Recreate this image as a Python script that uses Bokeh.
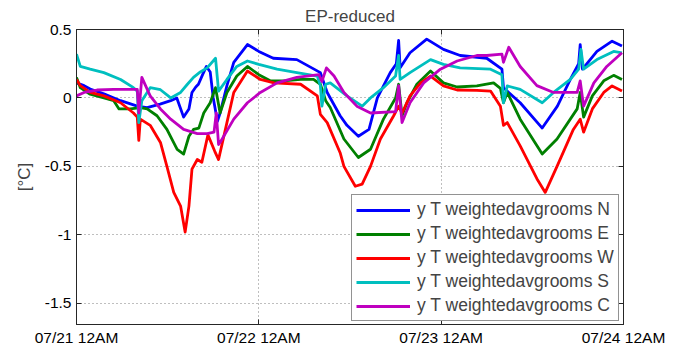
from bokeh.plotting import figure
from bokeh.models import FixedTicker, LinearAxis, Range1d, Legend
from bokeh.embed import file_html
from bokeh.resources import INLINE

# ---- data (hours since 07/21 12AM, temperature difference in degC) ----
hours_N = [0.0, 1.0, 1.8, 3.6, 5.8, 8.0, 9.3, 11.0, 12.4, 13.2, 14.1, 14.8, 15.2, 15.7, 16.05, 16.6, 17.1, 17.6,
           18.0, 18.55, 18.9, 19.8, 20.7, 22.5, 24.0, 25.9, 29.0, 32.1, 33.0, 34.7, 35.6, 37.1, 38.5, 39.6, 41.3,
           42.1, 42.4, 42.6, 43.9, 46.1, 48.3, 50.5, 54.0, 56.0, 56.2, 58.4, 61.3, 63.3, 65.0, 66.1, 66.3, 66.6,
           68.5, 70.5, 71.8]
temp_N = [0.11, 0.09, 0.065, 0.03, -0.02, -0.06, -0.07, -0.045, -0.02, 0.0, -0.14, -0.08, 0.04, 0.08, 0.10, 0.17,
          0.23, 0.19, 0.0, -0.17, -0.11, 0.09, 0.26, 0.39, 0.34, 0.29, 0.28, 0.185, 0.04, -0.13, -0.2, -0.28, -0.23,
          0.0, 0.185, 0.25, 0.42, 0.22, 0.33, 0.43, 0.355, 0.31, 0.29, 0.21, 0.075, -0.035, -0.22, -0.06, 0.135,
          0.25, 0.39, 0.21, 0.34, 0.415, 0.38]

hours_E = [0.0, 0.5, 1.8, 3.6, 4.9, 5.6, 7.1, 8.4, 9.3, 10.6, 11.9, 13.25, 14.1, 14.8, 15.4, 16.1, 16.75, 17.6,
           18.3, 18.9, 19.8, 21.1, 22.5, 24.0, 25.5, 27.3, 29.5, 31.2, 32.1, 32.8, 33.4, 35.2, 37.1, 38.7, 40.4,
           42.0, 42.4, 42.85, 43.5, 44.8, 46.6, 48.3, 50.1, 52.7, 54.9, 55.8, 56.2, 56.7, 58.4, 61.3, 63.25, 65.9,
           66.3, 66.75, 67.9, 69.4, 70.7, 71.8]
temp_E = [0.15, 0.075, 0.027, 0.0, -0.02, -0.08, -0.08, -0.07, -0.08, -0.13, -0.23, -0.375, -0.41, -0.28, -0.23,
          -0.22, -0.11, -0.035, 0.075, -0.11, 0.04, 0.16, 0.23, 0.17, 0.125, 0.125, 0.135, 0.135, 0.1, -0.02, -0.07,
          -0.3, -0.435, -0.375, -0.155, 0.0, 0.1, -0.13, -0.035, 0.1, 0.197, 0.11, 0.08, 0.088, 0.11, 0.07, -0.035,
          0.04, -0.155, -0.41, -0.3, -0.08, 0.04, -0.14, 0.015, 0.125, 0.165, 0.135]

hours_W = [0.0, 0.5, 1.8, 3.6, 5.8, 7.5, 8.0, 8.2, 8.4, 9.7, 11.05, 11.9, 12.8, 13.7, 14.3, 14.8, 15.2, 15.9, 16.5,
           17.3, 18.2, 18.7, 19.8, 20.7, 22.5, 24.2, 26.0, 29.5, 31.7, 32.1, 33.0, 34.7, 35.2, 36.7, 37.6, 38.7,
           40.0, 41.75, 42.4, 42.85, 43.9, 45.3, 46.6, 48.3, 50.1, 52.7, 54.5, 55.8, 56.2, 56.7, 58.4, 60.6, 61.7,
           63.25, 65.4, 66.3, 66.75, 67.9, 69.4, 70.5, 71.8]
temp_W = [0.135, 0.09, 0.04, 0.015, -0.035, -0.11, -0.14, -0.31, -0.155, -0.2, -0.325, -0.5, -0.69, -0.79, -0.98,
          -0.79, -0.52, -0.45, -0.47, -0.27, -0.39, -0.45, -0.18, 0.04, 0.197, 0.135, 0.11, 0.1, 0.015, -0.12, -0.18,
          -0.4, -0.5, -0.645, -0.63, -0.5, -0.3, -0.13, -0.06, -0.11, 0.015, 0.11, 0.16, 0.088, 0.058, 0.056, 0.05,
          -0.06, -0.2, -0.18, -0.35, -0.59, -0.69, -0.5, -0.23, -0.155, -0.25, -0.08, 0.04, 0.088, 0.05]

hours_S = [0.0, 0.5, 1.8, 3.6, 5.8, 7.5, 8.0, 8.2, 8.6, 9.7, 11.05, 12.4, 13.7, 14.6, 15.4, 16.3, 17.2, 18.3, 18.7,
           19.8, 21.1, 22.5, 24.0, 26.4, 29.0, 31.7, 32.1, 32.3, 32.8, 33.4, 35.6, 37.6, 38.7, 40.4, 42.0, 42.4,
           42.6, 43.9, 46.6, 48.3, 50.5, 54.5, 56.0, 56.2, 56.7, 58.4, 61.3, 62.8, 65.0, 66.1, 66.4, 66.75, 68.5,
           70.7, 71.8]
temp_S = [0.32, 0.23, 0.21, 0.185, 0.135, 0.075, 0.05, -0.18, -0.02, 0.075, 0.06, 0.0, 0.04, 0.1, 0.15, 0.19, 0.22,
          0.29, 0.05, 0.135, 0.23, 0.27, 0.245, 0.21, 0.185, 0.16, 0.09, -0.06, 0.1, 0.11, 0.015, -0.06, 0.0, 0.075,
          0.16, 0.31, 0.135, 0.185, 0.28, 0.245, 0.22, 0.21, 0.17, -0.035, 0.088, 0.063, -0.035, 0.04, 0.135, 0.21,
          0.355, 0.21, 0.28, 0.34, 0.33]

hours_C = [0.0, 1.0, 2.7, 4.9, 8.0, 8.2, 8.6, 9.7, 11.05, 12.4, 14.1, 15.9, 17.2, 18.1, 18.4, 18.7, 18.9, 20.7, 22.5,
           24.2, 26.4, 29.0, 31.9, 32.3, 32.9, 33.9, 35.2, 36.9, 38.7, 42.0, 42.4, 42.85, 43.9, 45.7, 47.9, 50.1,
           52.7, 54.0, 56.0, 56.2, 56.9, 58.4, 60.6, 62.8, 65.9, 66.3, 66.75, 68.1, 69.8, 71.8]
temp_C = [0.015, 0.04, 0.058, 0.063, 0.063, -0.11, 0.15, 0.015, -0.08, -0.155, -0.23, -0.26, -0.26, -0.25, -0.11,
          -0.34, -0.325, -0.155, -0.035, 0.04, 0.11, 0.15, 0.17, 0.12, 0.22, 0.16, 0.04, -0.06, -0.11, -0.1, 0.09,
          -0.18, -0.035, 0.11, 0.21, 0.27, 0.31, 0.31, 0.32, 0.26, 0.37, 0.23, 0.09, 0.04, 0.04, 0.125, -0.06, 0.11,
          0.23, 0.33]

series_labels = ["y T weightedavgrooms N", "y T weightedavgrooms E", "y T weightedavgrooms W",
                 "y T weightedavgrooms S", "y T weightedavgrooms C"]
series_colors = ["#0000FF", "#008000", "#FF0000", "#00BFBF", "#BF00BF"]

x_ticks = [0, 24, 48, 72]
x_tick_labels = ["07/21 12AM", "07/22 12AM", "07/23 12AM", "07/24 12AM"]
y_ticks = [-1.5, -1.0, -0.5, 0.0, 0.5]
y_tick_labels = ["-1.5", "-1", "-0.5", "0", "0.5"]
title_text = "EP-reduced"

FONT = "Liberation Sans"

p = figure(frame_width=547, frame_height=295, output_backend="svg", toolbar_location=None,
           x_range=Range1d(0, 72), y_range=Range1d(-1.655, 0.5),
           min_border_left=76, min_border_right=52, min_border_top=28, min_border_bottom=10,
           title=title_text)
p.title.align = "center"
p.title.text_font = FONT
p.title.text_font_size = "17px"
p.title.text_font_style = "normal"
p.title.standoff = 8
p.title.offset = 0
p.background_fill_color = "white"
p.border_fill_color = "white"
p.outline_line_color = "#262626"
p.outline_line_width = 1

xs = [hours_N, hours_E, hours_W, hours_S, hours_C]
ys = [temp_N, temp_E, temp_W, temp_S, temp_C]
renderers = []
for hx, ty, col in zip(xs, ys, series_colors):
    renderers.append(p.line(hx, ty, line_color=col, line_width=2.8, line_join="round"))

def style_axis(ax, ticks, overrides, show_labels=True):
    ax.ticker = FixedTicker(ticks=ticks)
    ax.major_label_overrides = overrides
    ax.axis_line_color = "#262626"
    ax.major_tick_line_color = "#262626"
    ax.major_tick_in = 5
    ax.major_tick_out = 0
    ax.minor_tick_line_color = None
    ax.major_label_text_font = FONT
    ax.major_label_text_font_size = "15.5px"
    ax.major_label_text_color = "black" if show_labels else None

style_axis(p.xaxis[0], x_ticks, dict(zip(x_ticks, x_tick_labels)))
style_axis(p.yaxis[0], y_ticks, dict(zip(y_ticks, y_tick_labels)))
p.xaxis[0].major_label_standoff = 4
p.yaxis[0].major_label_standoff = 5
p.yaxis[0].axis_label = "[°C]"
p.yaxis[0].axis_label_text_font = FONT
p.yaxis[0].axis_label_text_font_size = "17px"
p.yaxis[0].axis_label_text_font_style = "normal"
p.yaxis[0].axis_label_standoff = 8

right = LinearAxis()
style_axis(right, y_ticks, {}, show_labels=False)
right.major_label_text_font_size = "0px"
right.major_label_standoff = 0
p.add_layout(right, "right")
top = LinearAxis()
style_axis(top, x_ticks, {}, show_labels=False)
top.major_label_text_font_size = "0px"
top.major_label_standoff = 0
p.add_layout(top, "above")

for g, t in ((p.xgrid[0], x_ticks), (p.ygrid[0], y_ticks)):
    g.ticker = FixedTicker(ticks=t)
    g.grid_line_color = "#7f7f7f"
    g.grid_line_dash = "1 3"
    g.grid_line_width = 1

legend = Legend(items=[(lab, [r]) for lab, r in zip(series_labels, renderers)],
                location=(275, 3))
legend.label_text_font = FONT
legend.label_text_font_size = "17.5px"
legend.glyph_width = 54
legend.glyph_height = 18
legend.label_height = 18
legend.label_standoff = 7
legend.spacing = 3
legend.padding = 4
legend.margin = 0
legend.border_line_color = "#262626"
legend.border_line_width = 1
legend.background_fill_color = "white"
legend.background_fill_alpha = 1
p.add_layout(legend, "center")

open("out.html", "w").write(file_html(p, INLINE))
